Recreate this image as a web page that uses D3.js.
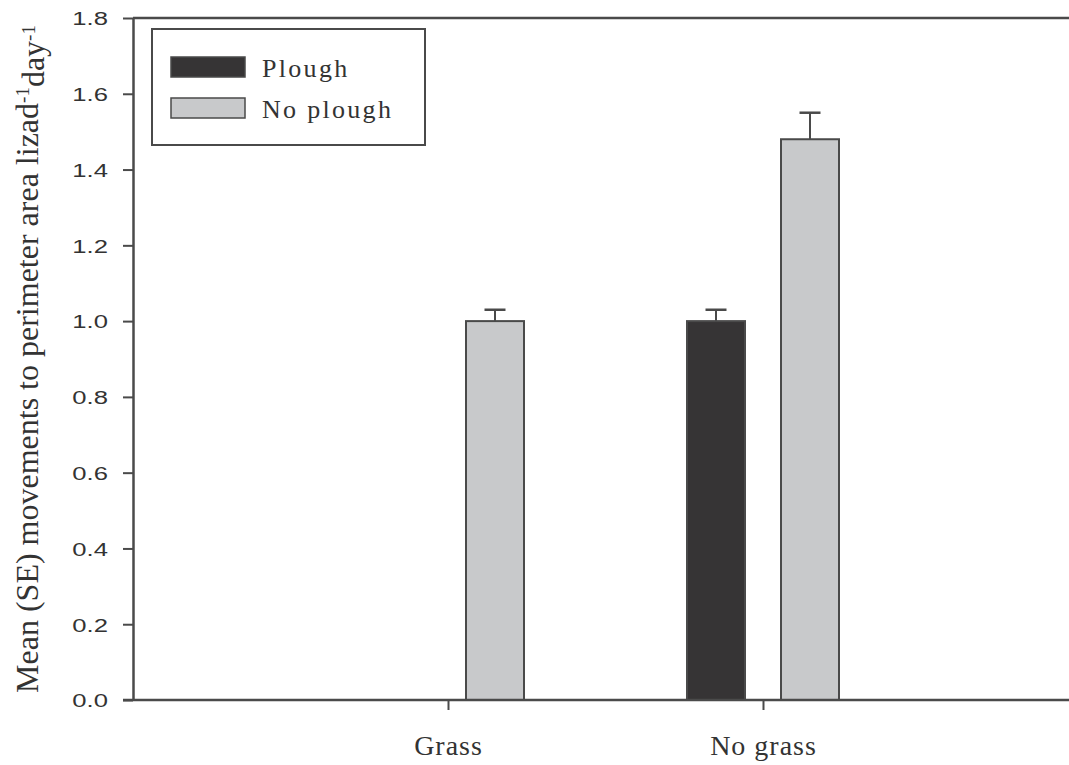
<!DOCTYPE html>
<html>
<head>
<meta charset="utf-8">
<script src="https://cdn.jsdelivr.net/npm/d3@7"></script>
<style>
  body { margin: 0; background: #fff; }
  svg { display: block; }
</style>
</head>
<body>
<div class="chart"></div>
<script>
// data
var categories = ["Grass", "No grass"];
var series = ["Plough", "No plough"];
var ploughMeans = [null, 1.0];
var ploughSE = [null, 0.03];
var noPloughMeans = [1.0, 1.48];
var noPloughSE = [0.03, 0.07];
var yTicks = [0, 0.2, 0.4, 0.6, 0.8, 1.0, 1.2, 1.4, 1.6, 1.8];

var seriesColors = ["#363435", "#c8c9cb"];
var lineColor = "#4a4a4a";

var width = 1069, height = 765;
var plotLeft = 133, plotRight = 1078, plotTop = 18, plotBottom = 700;

var svg = d3.select(".chart")
  .append("svg")
    .attr("width", width)
    .attr("height", height);

svg.append("rect")
  .attr("width", width)
  .attr("height", height)
  .attr("fill", "#fff");

var x = d3.scalePoint()
  .domain(categories)
  .range([plotLeft, plotRight])
  .padding(1);

var xSub = d3.scaleBand()
  .domain(series)
  .range([-76, 76])
  .paddingInner(0.383);

var y = d3.scaleLinear()
  .domain([0, 1.8])
  .range([plotBottom, plotTop]);

// build rows for the bars
var rows = [];
categories.forEach(function(c, i) {
  rows.push({cat: c, s: series[0], v: ploughMeans[i], se: ploughSE[i]});
  rows.push({cat: c, s: series[1], v: noPloughMeans[i], se: noPloughSE[i]});
});
rows = rows.filter(function(d) { return d.v !== null; });

// bars
svg.selectAll(".bar")
  .data(rows)
  .enter().append("rect")
    .attr("class", "bar")
    .attr("x", function(d) { return x(d.cat) + xSub(d.s); })
    .attr("y", function(d) { return y(d.v); })
    .attr("width", xSub.bandwidth())
    .attr("height", function(d) { return y(0) - y(d.v); })
    .attr("fill", function(d) { return seriesColors[series.indexOf(d.s)]; })
    .attr("stroke", lineColor)
    .attr("stroke-width", 2);

// error bars (upper only)
var err = svg.selectAll(".err")
  .data(rows)
  .enter().append("g")
    .attr("class", "err")
    .attr("transform", function(d) {
      return "translate(" + (x(d.cat) + xSub(d.s) + xSub.bandwidth() / 2) + ",0)";
    });

err.append("line")
  .attr("x1", 0).attr("x2", 0)
  .attr("y1", function(d) { return y(d.v); })
  .attr("y2", function(d) { return y(d.v + d.se); })
  .attr("stroke", lineColor)
  .attr("stroke-width", 2);

err.append("line")
  .attr("x1", -10.5).attr("x2", 10.5)
  .attr("y1", function(d) { return y(d.v + d.se); })
  .attr("y2", function(d) { return y(d.v + d.se); })
  .attr("stroke", lineColor)
  .attr("stroke-width", 2.5);

// frame: top line
svg.append("line")
  .attr("x1", plotLeft).attr("x2", plotRight)
  .attr("y1", plotTop).attr("y2", plotTop)
  .attr("stroke", lineColor)
  .attr("stroke-width", 2.5);

// y axis
var yAxis = svg.append("g")
  .attr("transform", "translate(" + plotLeft + ",0)")
  .call(d3.axisLeft(y).tickValues(yTicks).tickFormat(d3.format(".1f")).tickSize(10).tickSizeOuter(0));

yAxis.select(".domain").attr("stroke", lineColor).attr("stroke-width", 2.5);
yAxis.selectAll(".tick line").attr("stroke", lineColor).attr("stroke-width", 2);
yAxis.selectAll(".tick text")
  .attr("x", -25 / 1.35)
  .attr("dy", "0.36em")
  .attr("transform", "scale(1.35,1)")
  .style("font-family", "'Liberation Sans', Arial, sans-serif")
  .style("font-size", "19px")
  .attr("fill", "#333");

// x axis
var xAxis = svg.append("g")
  .attr("transform", "translate(0," + plotBottom + ")")
  .call(d3.axisBottom(x).tickSize(10).tickSizeOuter(0));

xAxis.select(".domain")
  .attr("d", "M" + (plotLeft - 10) + ",0H" + plotRight)
  .attr("stroke", lineColor).attr("stroke-width", 2.5);
xAxis.selectAll(".tick line").attr("stroke", lineColor).attr("stroke-width", 2);
xAxis.selectAll(".tick text")
  .attr("y", 55)
  .attr("dy", 0)
  .style("font-family", "'Liberation Serif', 'Times New Roman', serif")
  .style("font-size", "28px")
  .style("letter-spacing", "1px")
  .attr("fill", "#333");

// y title
var title = svg.append("text")
  .attr("transform", "translate(38," + (plotTop + plotBottom) / 2 + ") rotate(-90)")
  .attr("text-anchor", "middle")
  .style("font-family", "'Liberation Serif', 'Times New Roman', serif")
  .style("font-size", "32px")
  .attr("fill", "#333");

title.append("tspan").text("Mean (SE) movements to perimeter area lizad");
title.append("tspan").attr("dy", "-0.45em").style("font-size", "19px").text("-1");
title.append("tspan").attr("dy", "0.45em").text("day");
title.append("tspan").attr("dy", "-0.45em").style("font-size", "19px").text("-1");

// legend
var legend = svg.append("g");

legend.append("rect")
  .attr("x", 152).attr("y", 29)
  .attr("width", 273).attr("height", 116)
  .attr("fill", "#fff")
  .attr("stroke", lineColor)
  .attr("stroke-width", 2);

var items = legend.selectAll(".item")
  .data(series)
  .enter().append("g")
    .attr("class", "item")
    .attr("transform", function(d, i) { return "translate(171," + (57 + i * 41) + ")"; });

items.append("rect")
  .attr("width", 74).attr("height", 20)
  .attr("fill", function(d, i) { return seriesColors[i]; })
  .attr("stroke", lineColor)
  .attr("stroke-width", 1.5);

items.append("text")
  .attr("x", 91).attr("y", 20)
  .style("font-family", "'Liberation Serif', 'Times New Roman', serif")
  .style("font-size", "26px")
  .style("letter-spacing", "2.3px")
  .attr("fill", "#333")
  .text(function(d) { return d; });
</script>
</body>
</html>
